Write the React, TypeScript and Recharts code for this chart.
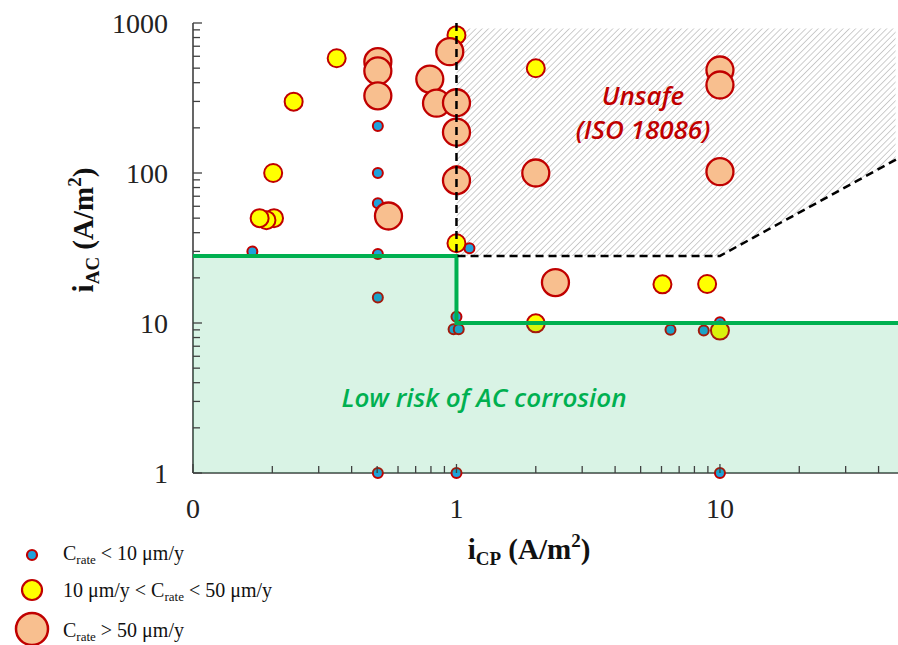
import React from 'react';
import { ScatterChart, Scatter, XAxis, YAxis } from 'recharts';

// ---- data (iCP, iAC in A/m²) ----
const lowRatePoints = [
  { x: 0.168, y: 30 },
  { x: 0.503, y: 206 },
  { x: 0.503, y: 100 },
  { x: 0.503, y: 62.8 },
  { x: 0.503, y: 28.8 },
  { x: 0.503, y: 14.8 },
  { x: 0.503, y: 1 },
  { x: 1.12, y: 31.5 },
  { x: 1.0, y: 11.0 },
  { x: 0.975, y: 9.1 },
  { x: 1.02, y: 9.1 },
  { x: 1.0, y: 1 },
  { x: 6.49, y: 9.0 },
  { x: 8.68, y: 8.9 },
  { x: 10, y: 10.1 },
  { x: 10, y: 1 },
];
const midRatePoints = [
  { x: 1.0, y: 830 },
  { x: 0.351, y: 582 },
  { x: 0.241, y: 299 },
  { x: 0.2015, y: 100 },
  { x: 1.0, y: 97 },
  { x: 0.203, y: 50 },
  { x: 0.19, y: 48.5 },
  { x: 0.179, y: 50 },
  { x: 1.0, y: 34 },
  { x: 2.0, y: 499 },
  { x: 6.05, y: 18.1 },
  { x: 8.94, y: 18.2 },
  { x: 2.0, y: 9.95 },
  { x: 10, y: 8.9 },
];
const highRatePoints = [
  { x: 0.943, y: 644 },
  { x: 0.503, y: 552 },
  { x: 0.503, y: 479 },
  { x: 0.503, y: 327 },
  { x: 0.792, y: 423 },
  { x: 0.84, y: 292 },
  { x: 1.0, y: 294 },
  { x: 1.0, y: 187 },
  { x: 1.0, y: 89 },
  { x: 0.552, y: 51.7 },
  { x: 2.0, y: 100 },
  { x: 10, y: 486 },
  { x: 10, y: 386 },
  { x: 10, y: 102 },
  { x: 2.375, y: 18.6 },
];

// region boundaries
const lowRiskZone = [
  { x: 0.1, y: 1 }, { x: 0.1, y: 28 }, { x: 1, y: 28 }, { x: 1, y: 10 }, { x: 47.4, y: 10 }, { x: 47.4, y: 1 },
];
const lowRiskLimit = [
  { x: 0.1, y: 28 }, { x: 1, y: 28 }, { x: 1, y: 10 }, { x: 47.4, y: 10 },
];
const unsafeZone = [
  { x: 1, y: 920 }, { x: 46.4, y: 920 }, { x: 46.4, y: 123 }, { x: 10, y: 28 }, { x: 1, y: 28 },
];
const unsafeLimit = [
  { x: 1, y: 1000 }, { x: 1, y: 28 }, { x: 10, y: 28 }, { x: 47.4, y: 125 },
];

// axes
const xDomain = [0.1, 47.4];
const yDomain = [1, 1000];
const xTicks = [0.1, 0.2, 0.3, 0.4, 0.5, 0.6, 0.7, 0.8, 0.9, 1, 2, 3, 4, 5, 6, 7, 8, 9, 10, 20, 30, 40];
const xMajorTicks = [0.1, 1, 10];
const xMajorLabels = ['0', '1', '10'];
const yTicks = [1, 2, 3, 4, 5, 6, 7, 8, 9, 10, 20, 30, 40, 50, 60, 70, 80, 90, 100, 200, 300, 400, 500, 600, 700, 800, 900, 1000];
const yMajorTicks = [1, 10, 100, 1000];
const yMajorLabels = ['1', '10', '100', '1000'];

const RED = '#c00000';
const BLUE = '#1fa2dc';
const YELLOW = '#ffff00';
const PEACH = '#f8bf8f';
const GREEN = '#00b050';
const AXIS = '#404040';
const SERIF = '"Liberation Serif", "Times New Roman", serif';
const SANS = '"Open Sans", "Noto Sans", sans-serif';

const near = (a: number, b: number) => Math.abs(a - b) < 1e-9;

const XTick = (props: any) => {
  const { x, y, payload } = props;
  const idx = xMajorTicks.findIndex((t) => near(t, payload.value));
  const major = idx >= 0;
  return (
    <g>
      <line x1={x} x2={x} y1={y} y2={y - (major ? 9 : 7)} stroke={AXIS} strokeWidth={1.3} />
      {major && (
        <text x={x} y={y + 45} textAnchor="middle" fontSize={28} fontFamily={SERIF} fill="#222">
          {xMajorLabels[idx]}
        </text>
      )}
    </g>
  );
};

const YTick = (props: any) => {
  const { x, y, payload } = props;
  const idx = yMajorTicks.findIndex((t) => near(t, payload.value));
  const major = idx >= 0;
  return (
    <g>
      <line x1={x} x2={x + (major ? 9 : 7)} y1={y} y2={y} stroke={AXIS} strokeWidth={1.3} />
      {major && (
        <text x={x - 25} y={y + 9.5} textAnchor="end" fontSize={28} fontFamily={SERIF} fill="#222">
          {yMajorLabels[idx]}
        </text>
      )}
    </g>
  );
};

const toPath = (pts: { x: number; y: number }[]) =>
  pts.map((p, i) => `${i ? 'L' : 'M'}${p.x},${p.y}`).join(' ') + ' Z';

const hatchFill = (p: any) => (
  <g>
    <defs>
      <pattern id="unsafeHatch" width="4.4" height="4.4" patternUnits="userSpaceOnUse" patternTransform="rotate(45)">
        <line x1="0" y1="0" x2="0" y2="4.4" stroke="#bdbdbd" strokeWidth="1.5" />
      </pattern>
    </defs>
    <path d={toPath(p.points)} fill="url(#unsafeHatch)" stroke="none" />
  </g>
);

const greenFill = (p: any) => <path d={toPath(p.points)} fill="rgba(0,176,80,0.15)" stroke="none" />;

const noShape = () => <g />;
const dot = (r: number, fill: string, sw: number) => (p: any) => (
  <circle cx={p.cx} cy={p.cy} r={r} fill={fill} stroke={RED} strokeWidth={sw} />
);

const XTitle = (props: any) => {
  const vb = props.viewBox;
  return (
    <text x={vb.x + 336} y={vb.y + 86} textAnchor="middle" fontFamily={SERIF} fontWeight="bold" fontSize={29} fill="#111">
      <tspan>i</tspan>
      <tspan fontSize={19} dy={6}>CP</tspan>
      <tspan dy={-6}> (A/m</tspan>
      <tspan fontSize={19} dy={-12}>2</tspan>
      <tspan dy={12}>)</tspan>
    </text>
  );
};

const YTitle = (props: any) => {
  const vb = props.viewBox;
  const cx = vb.x + 93;
  const cy = vb.y + 207;
  return (
    <text x={cx} y={cy} transform={`rotate(-90 ${cx} ${cy})`} textAnchor="middle" fontFamily={SERIF} fontWeight="bold" fontSize={29} fill="#111">
      <tspan>i</tspan>
      <tspan fontSize={19} dy={6}>AC</tspan>
      <tspan dy={-6}> (A/m</tspan>
      <tspan fontSize={19} dy={-12}>2</tspan>
      <tspan dy={12}>)</tspan>
    </text>
  );
};

export default function App() {
  return (
    <div style={{ position: 'absolute', left: 0, top: 0, width: 898, height: 645, background: '#fff' }}>
      <ScatterChart width={898} height={645} margin={{ top: 23, right: 0, bottom: 0, left: 0 }}>
        <XAxis
          type="number"
          dataKey="x"
          scale="log"
          domain={xDomain}
          ticks={xTicks}
          interval={0}
          height={172}
          tickLine={false}
          tickSize={0}
          tickMargin={0}
          tick={XTick}
          axisLine={{ stroke: AXIS, strokeWidth: 1.6 }}
          label={{ content: XTitle }}
        />
        <YAxis
          type="number"
          dataKey="y"
          scale="log"
          domain={yDomain}
          ticks={yTicks}
          interval={0}
          width={193}
          tickLine={false}
          tickSize={0}
          tickMargin={0}
          tick={YTick}
          axisLine={{ stroke: AXIS, strokeWidth: 1.6 }}
          label={{ content: YTitle }}
        />
        <Scatter data={unsafeZone} line={hatchFill} lineType="joint" shape={noShape} isAnimationActive={false} />
        <Scatter data={lowRatePoints} shape={dot(5, BLUE, 2)} isAnimationActive={false} />
        <Scatter data={midRatePoints} shape={dot(9, YELLOW, 2)} isAnimationActive={false} />
        <Scatter data={highRatePoints} shape={dot(13.5, PEACH, 2.3)} isAnimationActive={false} />
        <Scatter data={lowRiskZone} line={greenFill} lineType="joint" shape={noShape} isAnimationActive={false} />
        <Scatter
          data={lowRiskLimit}
          line={{ stroke: GREEN, strokeWidth: 4, fill: 'none' }}
          lineType="joint"
          shape={noShape}
          isAnimationActive={false}
        />
        <Scatter
          data={unsafeLimit}
          line={{ stroke: '#000', strokeWidth: 2.5, strokeDasharray: '8 5', fill: 'none' }}
          lineType="joint"
          shape={noShape}
          isAnimationActive={false}
        />
      </ScatterChart>
      <svg width={898} height={645} style={{ position: 'absolute', left: 0, top: 0, pointerEvents: 'none' }}>
        <text x={643} y={105} textAnchor="middle" fontFamily={SANS} fontStyle="italic" fontWeight={600} fontSize={26} fill={RED}>
          Unsafe
        </text>
        <text x={643} y={139} textAnchor="middle" fontFamily={SANS} fontStyle="italic" fontWeight={600} fontSize={26} fill={RED}>
          (ISO 18086)
        </text>
        <text x={484} y={407} textAnchor="middle" fontFamily={SANS} fontStyle="italic" fontWeight={600} fontSize={26} fill={GREEN}>
          Low risk of AC corrosion
        </text>
        <circle cx={32} cy={555} r={5} fill={BLUE} stroke={RED} strokeWidth={2.2} />
        <circle cx={32} cy={590} r={10} fill={YELLOW} stroke={RED} strokeWidth={2.2} />
        <circle cx={32} cy={629} r={16} fill={PEACH} stroke={RED} strokeWidth={2.5} />
        <text x={63} y={560} fontFamily={SERIF} fontSize={20} fill="#111">
          <tspan>C</tspan>
          <tspan fontSize={13} dy={4}>rate</tspan>
          <tspan dy={-4}> &lt; 10 μm/y</tspan>
        </text>
        <text x={63} y={597} fontFamily={SERIF} fontSize={20} fill="#111">
          <tspan>10 μm/y &lt; C</tspan>
          <tspan fontSize={13} dy={4}>rate</tspan>
          <tspan dy={-4}> &lt; 50 μm/y</tspan>
        </text>
        <text x={63} y={637} fontFamily={SERIF} fontSize={20} fill="#111">
          <tspan>C</tspan>
          <tspan fontSize={13} dy={4}>rate</tspan>
          <tspan dy={-4}> &gt; 50 μm/y</tspan>
        </text>
      </svg>
    </div>
  );
}
